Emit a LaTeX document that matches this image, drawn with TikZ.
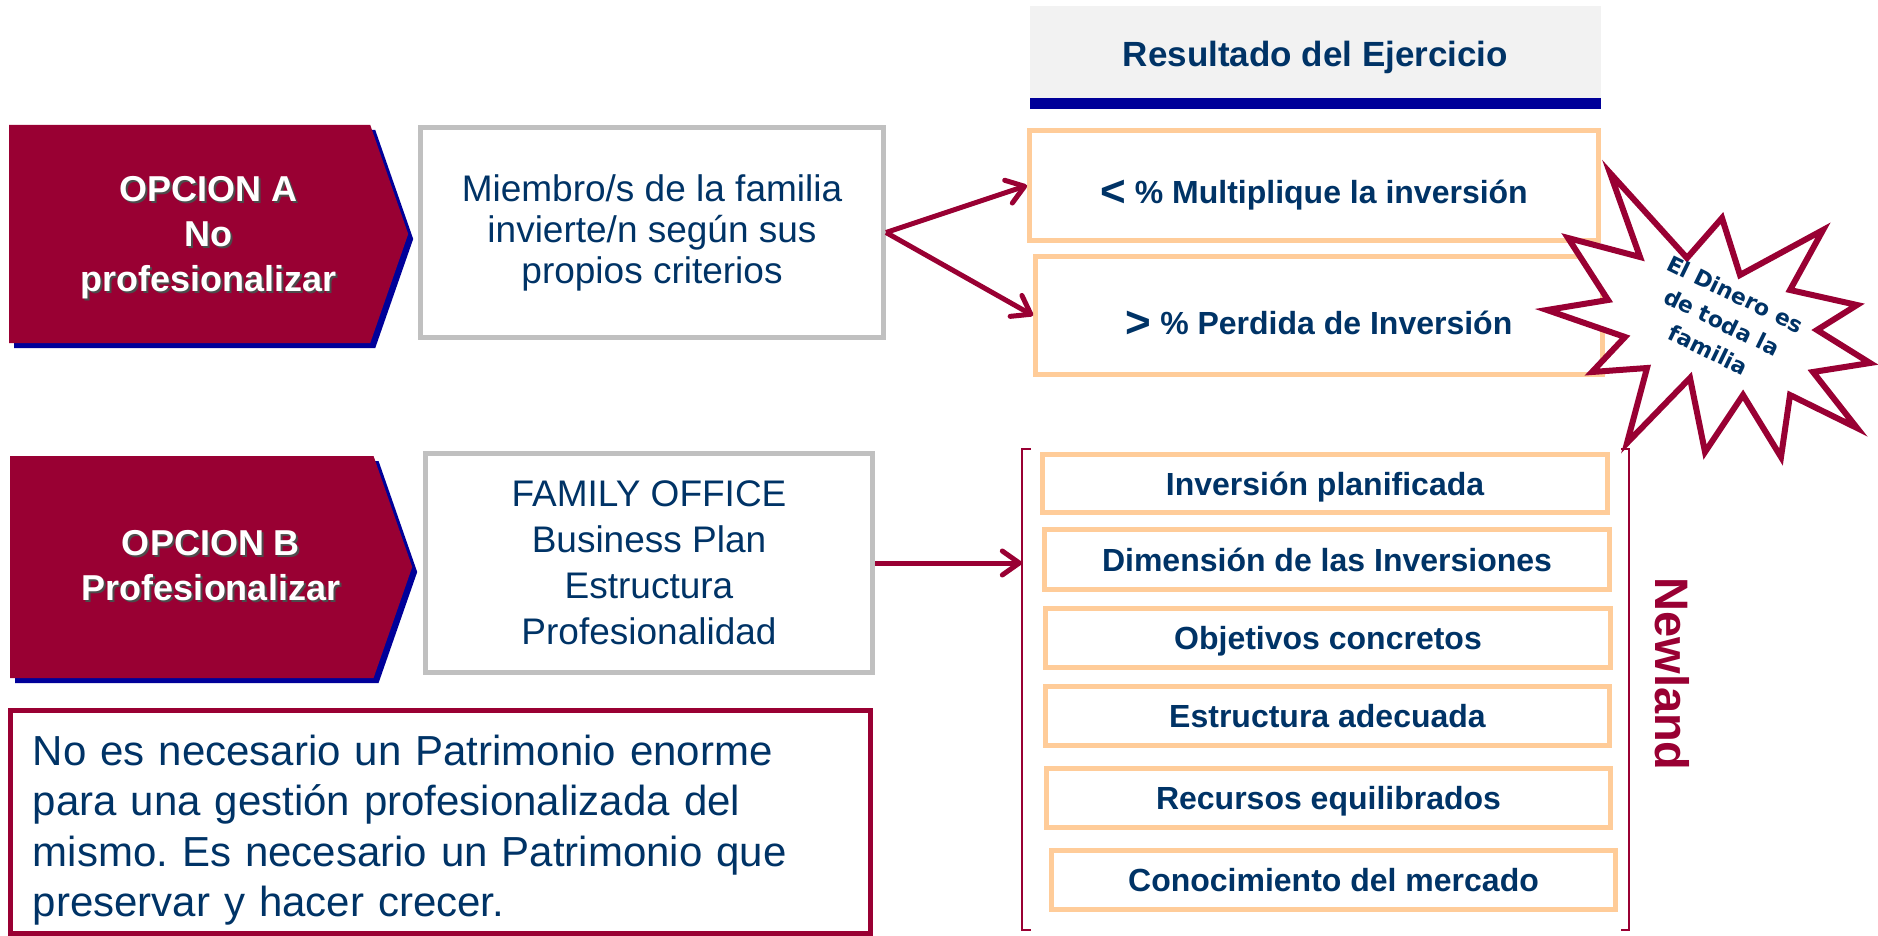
\documentclass[tikz,border=0pt]{standalone}
\usepackage{fontspec}
\setmainfont{Liberation Sans}
\newfontfamily\starfont{DejaVu Sans}
\usetikzlibrary{shapes,arrows.meta,shadows}
\definecolor{crimson}{HTML}{990033}
\definecolor{navy}{HTML}{003366}
\definecolor{deepblue}{HTML}{000099}
\definecolor{peach}{HTML}{FFCC99}
\definecolor{boxgray}{HTML}{C0C0C0}
\definecolor{headgray}{HTML}{F2F2F2}
\frenchspacing
\tikzstyle{OPT} = [signal, signal to=east, signal pointer angle=141.6, fill=crimson,
    minimum width=399pt, minimum height=218pt, inner sep=0pt, anchor=west,
    drop shadow={shadow xshift=5pt, shadow yshift=-5pt, opacity=1, fill=deepblue}]
\tikzstyle{OPTtext} = [text=white, align=center, font=\fontsize{36}{45}\selectfont\bfseries]
\tikzstyle{OPTshadow} = [OPTtext, text=black!70, xshift=2pt, yshift=-2pt]
\tikzstyle{FAM} = [rectangle, draw=boxgray, line width=5pt, text=navy, align=center,
    font=\fontsize{37}{41}\selectfont]
\tikzstyle{RES} = [rectangle, draw=peach, line width=5pt, text=navy, text height=23pt, text depth=0pt,
    font=\fontsize{32}{36}\selectfont\bfseries]
\tikzstyle{RESbig} = [RES, text height=37pt]
\tikzstyle{NOTE} = [rectangle, draw=crimson, line width=5pt, text=navy, align=left,
    text width=815pt, inner ysep=4pt, font=\fontsize{42}{50.5}\selectfont]
\tikzstyle{line} = [draw=crimson, line width=5pt, -{Straight Barb[length=17pt,width=24pt,round]}]
\tikzstyle{bracket} = [draw=crimson, line width=2.5pt]

\begin{document}
\begin{tikzpicture}[x=1pt, y=-1pt]
 \useasboundingbox (0,0) rectangle (1878,936);
 \node at (9,234) [OPT, name=optA] {};
 \node at (208.5,238) [OPTshadow, name=optAsh] {OPCION A\\No\\profesionalizar};
 \node at (208.5,238) [OPTtext, name=optAtxt] {OPCION A\\No\\profesionalizar};
 \node at (10,567) [OPT, minimum width=402pt, minimum height=222pt, name=optB] {};
 \node at (211,566) [OPTshadow, name=optBsh] {OPCION B\\Profesionalizar};
 \node at (211,566) [OPTtext, name=optBtxt] {OPCION B\\Profesionalizar};
 \node at (652,232.5) [FAM, minimum width=463pt, minimum height=210pt, name=miembro] {Miembro/s de la familia\\invierte/n según sus\\propios criterios};
 \node at (649,563) [FAM, minimum width=447pt, minimum height=218.5pt,
    font=\fontsize{37}{46}\selectfont, name=famoff] {FAMILY OFFICE\\Business Plan\\Estructura\\Profesionalidad};
 \node at (440.25,821.75) [NOTE, minimum width=859.5pt, minimum height=222.5pt, name=note]
    {\rule{0pt}{47.5pt}No es necesario un Patrimonio enorme\\para una gestión profesionalizada del\\mismo. Es necesario un Patrimonio que\\preservar y hacer crecer.};
 \node at (1315.5,52) [rectangle, fill=headgray, minimum width=571pt, minimum height=92pt,
    text height=29pt, text depth=0pt, text=navy, font=\fontsize{35}{40}\selectfont\bfseries, name=header] {Resultado del Ejercicio};
 \fill [deepblue] (header.south west) rectangle ++(571,11);
 \node at (1314,185.5) [RESbig, minimum width=569pt, minimum height=110pt, name=mult] {\raisebox{-3pt}{\fontsize{44}{44}\selectfont <} \% Multiplique la inversión};
 \node at (1319,315.5) [RESbig, minimum width=567pt, minimum height=118pt, name=perd] {\raisebox{-3pt}{\fontsize{44}{44}\selectfont >} \% Perdida de Inversión};
 \node at (1325,483.5) [RES, minimum width=565pt, minimum height=58pt, name=planif] {Inversión planificada};
 \node at (1327,559.5) [RES, minimum width=565pt, minimum height=60pt, name=dimen] {Dimensión de las Inversiones};
 \node at (1328,638) [RES, minimum width=565pt, minimum height=59pt, name=objet] {Objetivos concretos};
 \node at (1327.5,716) [RES, minimum width=564pt, minimum height=59pt, name=estruc] {Estructura adecuada};
 \node at (1328.5,798) [RES, minimum width=564pt, minimum height=59pt, name=recur] {Recursos equilibrados};
 \node at (1333.5,880) [RES, minimum width=564pt, minimum height=59pt, name=conoc] {Conocimiento del mercado};
 \node at (1325.5,689.5) [minimum width=607pt, minimum height=481pt, inner sep=0pt, name=newl] {};
 \path [bracket] ([xshift=9pt]newl.north west) -- (newl.north west) -- (newl.south west) -- ([xshift=9pt]newl.south west);
 \path [bracket] ([xshift=-8pt]newl.north east) -- (newl.north east) -- (newl.south east) -- ([xshift=-8pt]newl.south east);
 \node at (1672,674) [rotate=-90, text=crimson, font=\fontsize{47}{47}\selectfont\bfseries, name=newland] {Newland};
 \draw [crimson, line width=6pt, fill=white] (1610,173) -- (1687,258) -- (1722,218) -- (1740,275) -- (1823,230)
    -- (1790,290) -- (1857,305) -- (1817,330) -- (1870,363) -- (1813,372) -- (1857,428) -- (1790,395)
    -- (1781,457) -- (1743,395) -- (1705,452) -- (1690,378) -- (1627,443) -- (1647,368) -- (1592,372)
    -- (1625,337) -- (1547,310) -- (1608,300) -- (1568,238) -- (1640,257) -- cycle;
 \node at (1722,322) [rotate=-26, text=navy, align=center, font=\starfont\fontsize{22}{31}\selectfont\bfseries, name=dinero] {El Dinero es\\de toda la\\familia};
 \path [line] (miembro.east) -- (mult.west);
 \path [line] (miembro.east) -- (perd.west);
 \path [line] (famoff.east) -- (famoff.east -| newl.west);
\end{tikzpicture}
\end{document}
